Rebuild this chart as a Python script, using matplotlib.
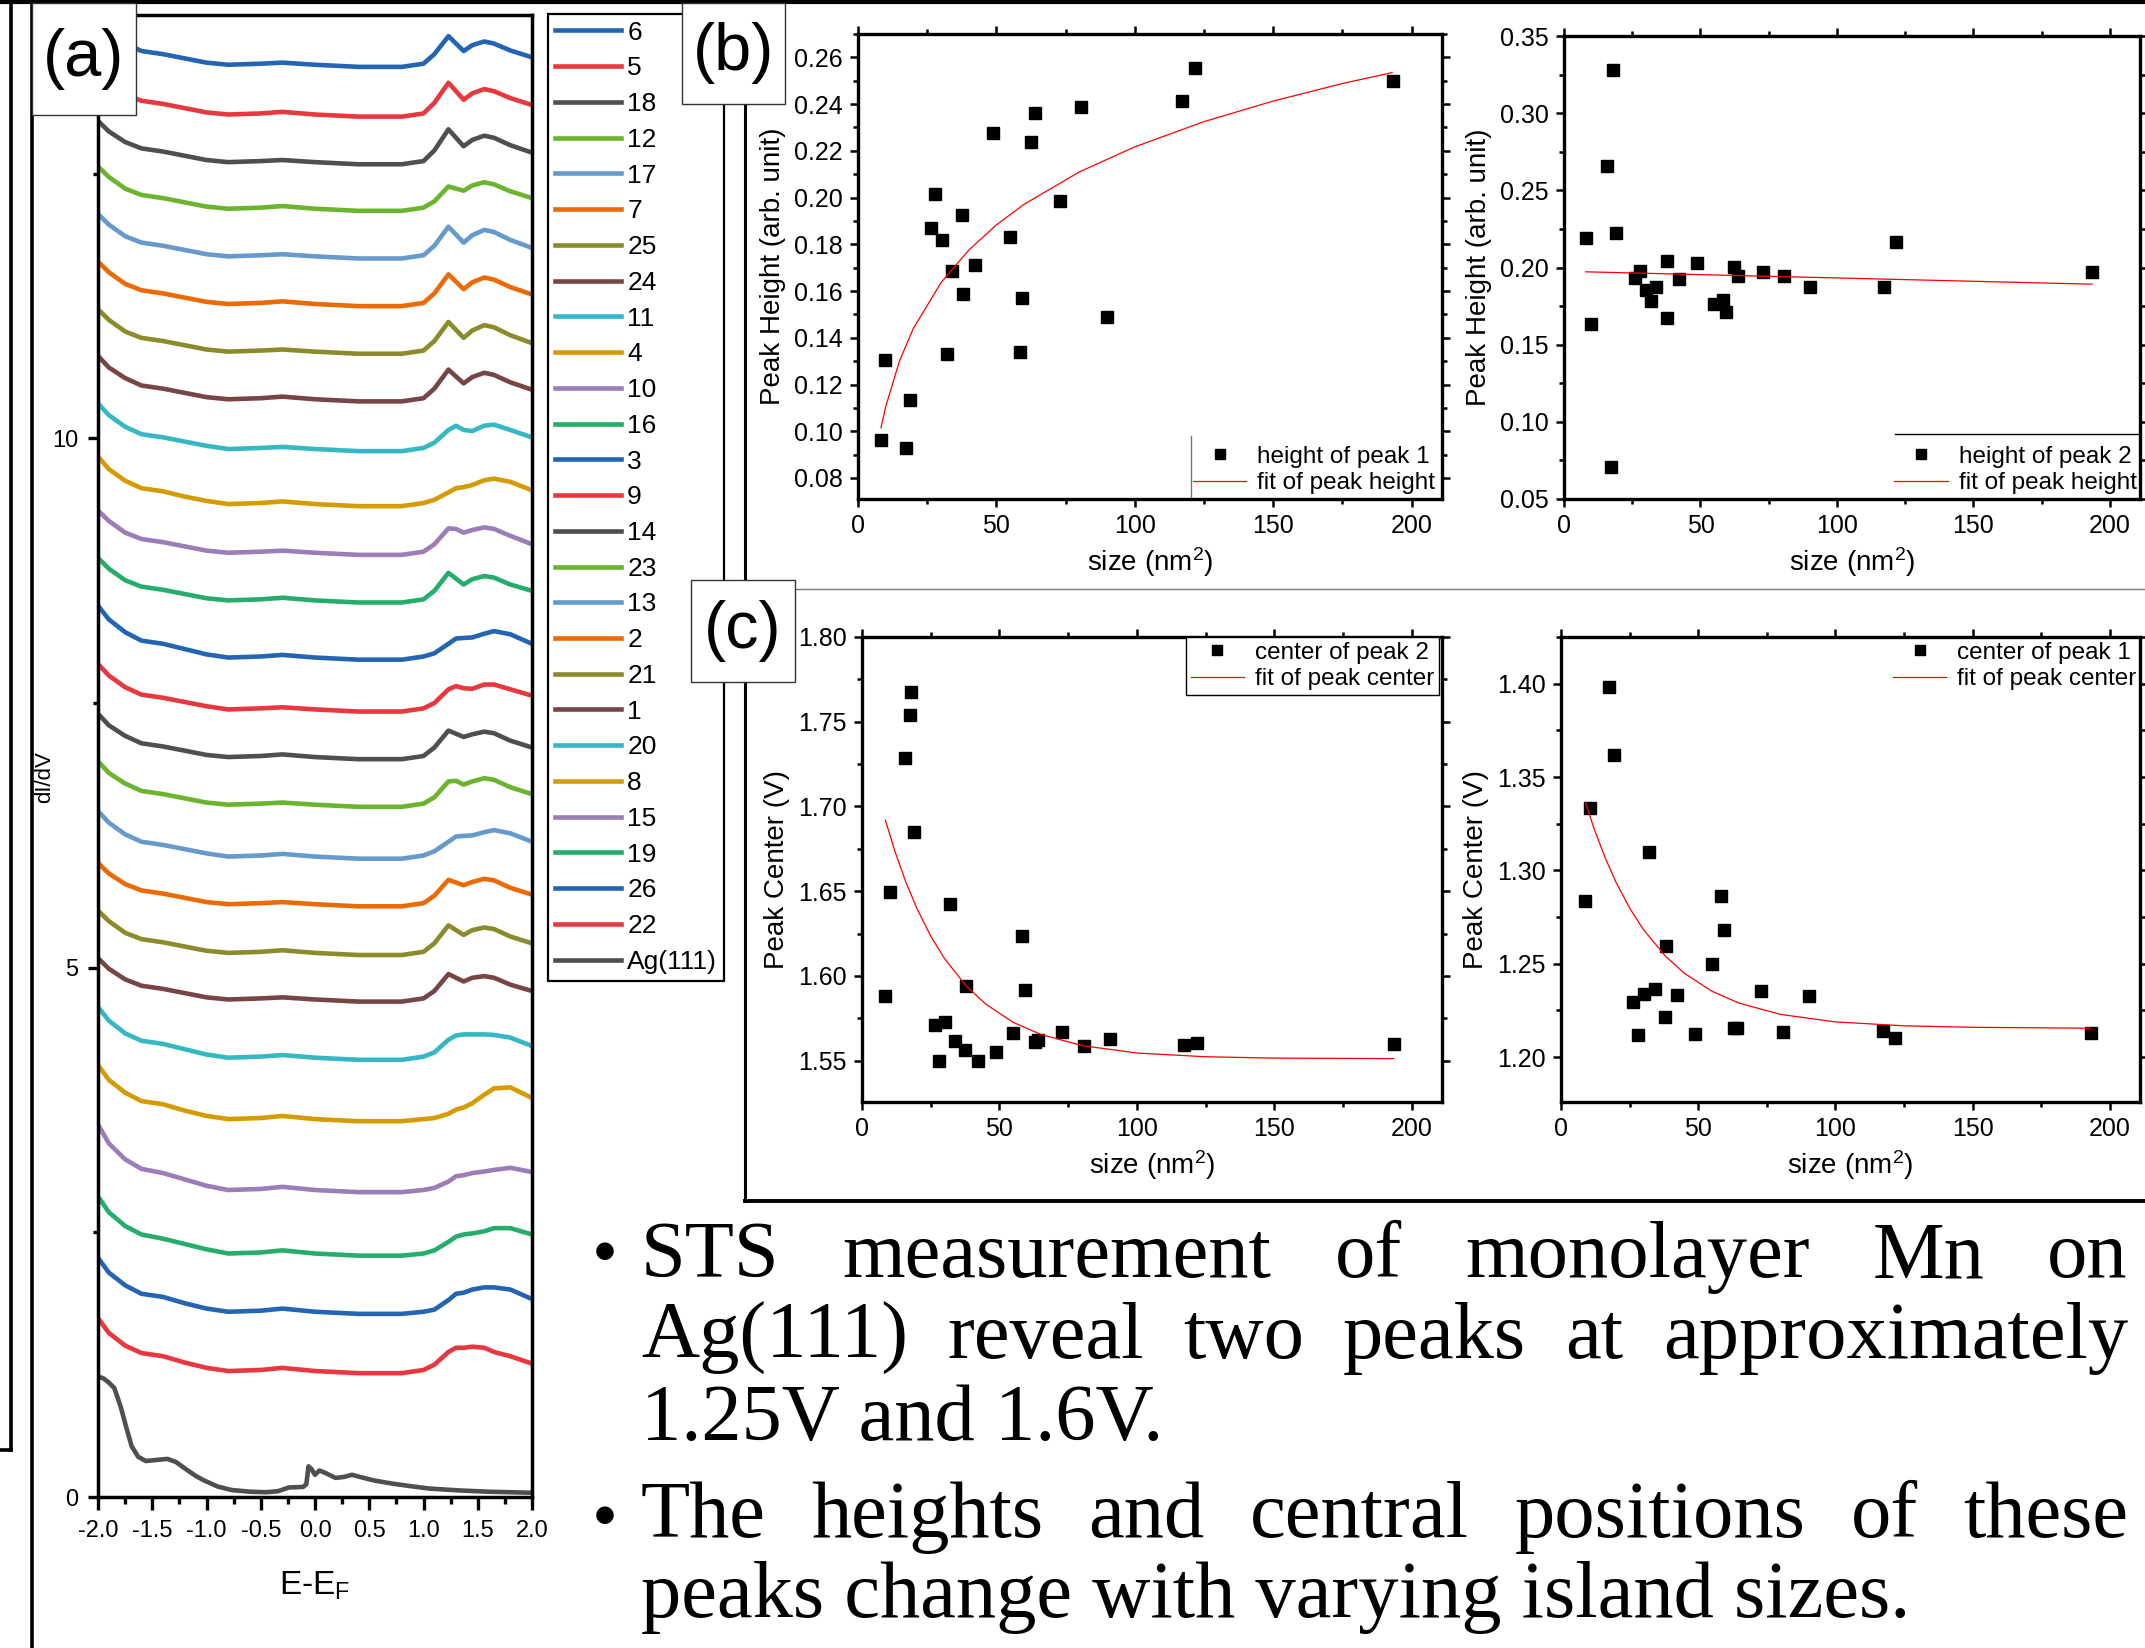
import matplotlib
matplotlib.use('Agg')
import matplotlib.pyplot as plt
from matplotlib.lines import Line2D
from matplotlib.patches import Rectangle
from matplotlib.ticker import MultipleLocator, FormatStrFormatter

plt.rcParams['font.family'] = ['Liberation Sans', 'DejaVu Sans']
plt.rcParams['mathtext.default'] = 'regular'
plt.rcParams['axes.unicode_minus'] = False

# ---------------- (a) STS spectra, stacked ----------------
sts_x = [-2.0, -1.9, -1.75, -1.6, -1.4, -1.2, -1.0, -0.8, -0.5, -0.3, 0.0, 0.4,
         0.8, 1.0, 1.1, 1.23, 1.3, 1.37, 1.45, 1.56, 1.65, 1.8, 2.0]
sts_labels = ['6', '5', '18', '12', '17', '7', '25', '24', '11', '4', '10', '16', '3',
              '9', '14', '23', '13', '2', '21', '1', '20', '8', '15', '19', '26', '22']
sts_offsets = [13.51, 13.04, 12.59, 12.15, 11.70, 11.25, 10.80, 10.35, 9.88, 9.36, 8.90,
               8.45, 7.91, 7.42, 6.97, 6.52, 6.03, 5.58, 5.12, 4.68, 4.13, 3.55, 2.88,
               2.28, 1.73, 1.17]
sts_curves = [
    [0.43, 0.32, 0.22, 0.15, 0.12, 0.08, 0.04, 0.02, 0.03, 0.04, 0.02, 0.0, 0.0, 0.03, 0.12, 0.29, 0.22, 0.15, 0.205, 0.24, 0.22, 0.155, 0.09],
    [0.42, 0.32, 0.21, 0.15, 0.12, 0.08, 0.04, 0.02, 0.03, 0.045, 0.02, 0.0, 0.0, 0.03, 0.13, 0.32, 0.24, 0.16, 0.22, 0.26, 0.24, 0.175, 0.11],
    [0.41, 0.31, 0.21, 0.15, 0.12, 0.08, 0.04, 0.02, 0.03, 0.04, 0.02, 0.0, 0.0, 0.03, 0.13, 0.33, 0.25, 0.17, 0.23, 0.27, 0.25, 0.18, 0.11],
    [0.42, 0.32, 0.21, 0.15, 0.12, 0.08, 0.04, 0.02, 0.03, 0.045, 0.02, 0.0, 0.0, 0.03, 0.09, 0.23, 0.21, 0.19, 0.24, 0.27, 0.25, 0.185, 0.12],
    [0.42, 0.32, 0.21, 0.15, 0.12, 0.08, 0.04, 0.02, 0.03, 0.04, 0.02, 0.0, 0.0, 0.03, 0.12, 0.30, 0.225, 0.15, 0.22, 0.27, 0.25, 0.175, 0.10],
    [0.42, 0.32, 0.21, 0.15, 0.12, 0.08, 0.04, 0.02, 0.03, 0.045, 0.02, 0.0, 0.0, 0.03, 0.12, 0.30, 0.23, 0.16, 0.225, 0.27, 0.25, 0.18, 0.11],
    [0.42, 0.32, 0.21, 0.15, 0.12, 0.08, 0.04, 0.02, 0.03, 0.04, 0.02, 0.0, 0.0, 0.03, 0.12, 0.30, 0.225, 0.15, 0.22, 0.27, 0.25, 0.175, 0.10],
    [0.43, 0.32, 0.22, 0.15, 0.12, 0.08, 0.04, 0.02, 0.03, 0.045, 0.02, 0.0, 0.0, 0.03, 0.12, 0.30, 0.235, 0.17, 0.23, 0.27, 0.25, 0.18, 0.11],
    [0.45, 0.34, 0.23, 0.16, 0.13, 0.09, 0.05, 0.02, 0.03, 0.04, 0.02, 0.0, 0.0, 0.03, 0.08, 0.20, 0.24, 0.20, 0.19, 0.24, 0.25, 0.20, 0.13],
    [0.47, 0.35, 0.24, 0.17, 0.14, 0.09, 0.05, 0.02, 0.03, 0.045, 0.02, 0.0, 0.0, 0.03, 0.06, 0.13, 0.17, 0.18, 0.20, 0.245, 0.26, 0.23, 0.15],
    [0.42, 0.32, 0.21, 0.15, 0.12, 0.08, 0.04, 0.02, 0.03, 0.04, 0.02, 0.0, 0.0, 0.03, 0.10, 0.25, 0.245, 0.21, 0.235, 0.26, 0.245, 0.18, 0.10],
    [0.42, 0.32, 0.21, 0.15, 0.12, 0.08, 0.04, 0.02, 0.03, 0.045, 0.02, 0.0, 0.0, 0.03, 0.11, 0.28, 0.225, 0.17, 0.22, 0.25, 0.235, 0.17, 0.11],
    [0.51, 0.38, 0.26, 0.18, 0.15, 0.10, 0.05, 0.02, 0.03, 0.045, 0.02, 0.0, 0.0, 0.03, 0.06, 0.15, 0.20, 0.205, 0.21, 0.245, 0.27, 0.24, 0.15],
    [0.45, 0.34, 0.23, 0.16, 0.13, 0.09, 0.05, 0.02, 0.03, 0.04, 0.02, 0.0, 0.0, 0.03, 0.08, 0.21, 0.24, 0.22, 0.215, 0.255, 0.255, 0.21, 0.15],
    [0.43, 0.32, 0.22, 0.15, 0.12, 0.08, 0.04, 0.02, 0.03, 0.045, 0.02, 0.0, 0.0, 0.03, 0.11, 0.27, 0.24, 0.21, 0.235, 0.26, 0.245, 0.175, 0.11],
    [0.43, 0.32, 0.22, 0.15, 0.12, 0.08, 0.04, 0.02, 0.03, 0.04, 0.02, 0.0, 0.0, 0.03, 0.09, 0.24, 0.245, 0.21, 0.24, 0.27, 0.255, 0.185, 0.12],
    [0.45, 0.34, 0.23, 0.16, 0.13, 0.09, 0.05, 0.02, 0.03, 0.045, 0.02, 0.0, 0.0, 0.03, 0.07, 0.16, 0.21, 0.215, 0.22, 0.25, 0.27, 0.24, 0.16],
    [0.41, 0.31, 0.21, 0.15, 0.12, 0.08, 0.04, 0.02, 0.03, 0.04, 0.02, 0.0, 0.0, 0.03, 0.10, 0.25, 0.225, 0.20, 0.23, 0.26, 0.245, 0.175, 0.11],
    [0.42, 0.32, 0.21, 0.15, 0.12, 0.08, 0.04, 0.02, 0.03, 0.045, 0.02, 0.0, 0.0, 0.03, 0.11, 0.28, 0.235, 0.19, 0.235, 0.26, 0.245, 0.175, 0.11],
    [0.41, 0.31, 0.21, 0.15, 0.12, 0.08, 0.04, 0.02, 0.03, 0.04, 0.02, 0.0, 0.0, 0.03, 0.10, 0.26, 0.225, 0.19, 0.225, 0.24, 0.225, 0.16, 0.10],
    [0.50, 0.37, 0.25, 0.18, 0.15, 0.10, 0.05, 0.02, 0.03, 0.045, 0.02, 0.0, 0.0, 0.03, 0.07, 0.19, 0.23, 0.24, 0.24, 0.24, 0.235, 0.21, 0.13],
    [0.53, 0.39, 0.27, 0.19, 0.16, 0.10, 0.05, 0.02, 0.03, 0.05, 0.02, 0.0, 0.0, 0.02, 0.03, 0.07, 0.11, 0.13, 0.17, 0.25, 0.31, 0.32, 0.22],
    [0.64, 0.46, 0.31, 0.22, 0.18, 0.12, 0.06, 0.02, 0.03, 0.05, 0.02, 0.0, 0.0, 0.02, 0.04, 0.10, 0.15, 0.16, 0.18, 0.195, 0.21, 0.23, 0.19],
    [0.56, 0.41, 0.28, 0.20, 0.16, 0.11, 0.06, 0.02, 0.03, 0.05, 0.02, 0.0, 0.0, 0.02, 0.05, 0.13, 0.18, 0.20, 0.21, 0.23, 0.26, 0.26, 0.20],
    [0.53, 0.39, 0.27, 0.19, 0.16, 0.10, 0.05, 0.02, 0.03, 0.05, 0.02, 0.0, 0.0, 0.02, 0.04, 0.13, 0.19, 0.20, 0.23, 0.25, 0.25, 0.23, 0.14],
    [0.52, 0.38, 0.26, 0.19, 0.16, 0.10, 0.05, 0.02, 0.03, 0.05, 0.02, 0.0, 0.0, 0.03, 0.08, 0.20, 0.24, 0.24, 0.25, 0.24, 0.20, 0.16, 0.09],
]
sts_colors = ['#2365b2', '#e8383f', '#4f4f4f', '#6bb42e', '#6699cc', '#ec6a05',
              '#8b8b2b', '#774545', '#35b8c3', '#d49b02', '#9b7db8', '#27ad6b']

ag_x = [-2.0, -1.95, -1.91, -1.85, -1.79, -1.74, -1.69, -1.63, -1.56, -1.46, -1.36,
        -1.28, -1.2, -1.1, -1.03, -0.9, -0.77, -0.6, -0.45, -0.34, -0.24, -0.11,
        -0.08, -0.06, -0.03, 0.0, 0.04, 0.09, 0.19, 0.27, 0.34, 0.45, 0.55, 0.72,
        0.9, 1.05, 1.2, 1.37, 1.6, 1.8, 2.0]
ag_y = [1.14, 1.12, 1.09, 1.03, 0.85, 0.66, 0.48, 0.38, 0.34, 0.35, 0.36,
        0.33, 0.27, 0.20, 0.16, 0.10, 0.066, 0.05, 0.045, 0.055, 0.09, 0.095,
        0.12, 0.29, 0.26, 0.21, 0.25, 0.23, 0.18, 0.19, 0.21, 0.18, 0.155, 0.125,
        0.10, 0.08, 0.07, 0.06, 0.05, 0.045, 0.04]

# ---------------- (b) peak heights ----------------
b1_size = [8.3, 9.9, 17.5, 18.9, 26.3, 27.9, 30.2, 32.0, 34.0, 37.6, 38.0, 42.3,
           48.8, 54.9, 58.5, 59.4, 62.6, 63.9, 72.9, 80.6, 90.1, 117.1, 121.8, 193.2]
b1_height = [0.0963, 0.1303, 0.0930, 0.1134, 0.1871, 0.2017, 0.1819, 0.1330, 0.1687,
             0.1927, 0.1587, 0.1711, 0.2275, 0.1832, 0.1339, 0.1571, 0.2236, 0.2363,
             0.1987, 0.2389, 0.1487, 0.2412, 0.2556, 0.2499]
b1_fit_x = [8.3, 10, 15, 20, 30, 40, 50, 60, 80, 100, 125, 150, 175, 193]
b1_fit_y = [0.1015, 0.1105, 0.1301, 0.1440, 0.1636, 0.1775, 0.1883, 0.1971, 0.2110,
            0.2217, 0.2325, 0.2413, 0.2488, 0.2535]

b2_size = [8.1, 10.0, 15.7, 17.3, 17.9, 18.9, 26.1, 27.9, 30.1, 32.0, 33.8, 37.7,
           37.9, 42.1, 48.6, 55.0, 58.2, 59.2, 62.4, 63.8, 72.8, 80.7, 90.2, 117.3,
           121.7, 193.4]
b2_height = [0.2194, 0.1633, 0.2655, 0.0709, 0.3277, 0.2223, 0.1933, 0.1980, 0.1851,
             0.1782, 0.1871, 0.2042, 0.1675, 0.1923, 0.2027, 0.1765, 0.1792, 0.1713,
             0.2003, 0.1946, 0.1970, 0.1943, 0.1876, 0.1871, 0.2164, 0.1970]
b2_fit_x = [8.0, 193.4]
b2_fit_y = [0.1972, 0.1892]

# ---------------- (c) peak centers ----------------
c2_size = [8.3, 10.1, 15.7, 17.4, 17.9, 19.0, 26.4, 27.9, 30.2, 32.0, 34.0, 37.6,
           38.0, 42.2, 48.7, 55.0, 58.3, 59.4, 62.8, 63.9, 72.8, 80.7, 90.3, 117.3,
           121.8, 193.5]
c2_center = [1.5882, 1.6496, 1.7286, 1.7540, 1.7673, 1.6847, 1.5711, 1.5495, 1.5728,
             1.6423, 1.5616, 1.5564, 1.5939, 1.5500, 1.5552, 1.5664, 1.6233, 1.5915,
             1.5609, 1.5621, 1.5668, 1.5585, 1.5628, 1.5590, 1.5604, 1.5597]
c2_fit_x = [8.5, 12, 16, 20, 25, 30, 38, 45, 55, 65, 80, 100, 125, 150, 193.5]
c2_fit_y = [1.6920, 1.6734, 1.6552, 1.6397, 1.6235, 1.6103, 1.5939, 1.5834, 1.5726,
            1.5655, 1.5589, 1.5545, 1.5523, 1.5515, 1.5512]

c1_size = [8.6, 10.4, 17.6, 19.3, 26.3, 27.9, 30.4, 32.0, 34.1, 37.9, 38.3, 42.3,
           49.0, 55.0, 58.4, 59.4, 62.9, 64.1, 73.0, 80.9, 90.4, 117.3, 121.7, 193.1]
c1_center = [1.2837, 1.3333, 1.3981, 1.3619, 1.2297, 1.2120, 1.2340, 1.3101, 1.2363,
             1.2213, 1.2598, 1.2333, 1.2125, 1.2497, 1.2862, 1.2680, 1.2155, 1.2155,
             1.2355, 1.2136, 1.2329, 1.2140, 1.2103, 1.2131]
c1_fit_x = [8.9, 12, 16, 20, 25, 30, 38, 45, 55, 65, 80, 100, 125, 150, 193]
c1_fit_y = [1.3365, 1.3226, 1.3071, 1.2938, 1.2799, 1.2684, 1.2542, 1.2449, 1.2353,
            1.2289, 1.2229, 1.2189, 1.2168, 1.2160, 1.2155]

bullet1 = [['STS', 'measurement', 'of', 'monolayer', 'Mn', 'on'],
           ['Ag(111)', 'reveal', 'two', 'peaks', 'at', 'approximately'],
           ['1.25V and 1.6V.']]
bullet2 = [['The', 'heights', 'and', 'central', 'positions', 'of', 'these'],
           ['peaks change with varying island sizes.']]

# ---------------- figure ----------------
W, H = 2145, 1648
fig = plt.figure(figsize=(W / 100, H / 100), dpi=100)


def fx(x):
    return x / W


def fy(y):
    return 1 - y / H


def add_axes_px(l, t, r, b):
    return fig.add_axes([l / W, 1 - b / H, (r - l) / W, (b - t) / H])


def fig_line(x0, y0, x1, y1, lw=2.5, color='black'):
    fig.add_artist(Line2D([fx(x0), fx(x1)], [fy(y0), fy(y1)], transform=fig.transFigure,
                          color=color, lw=lw, solid_capstyle='projecting', zorder=4))


def panel_tag(text, l, t, r, b):
    fig.add_artist(Rectangle((fx(l), fy(b)), (r - l) / W, (b - t) / H,
                             transform=fig.transFigure, facecolor='white',
                             edgecolor='#333333', lw=1.0, zorder=5))
    fig.text(fx((l + r) / 2), fy((t + b) / 2), text, ha='center', va='center',
             fontsize=48, zorder=6)


# slide frame lines
fig_line(0, 2, W, 2, lw=3)
fig_line(11, 0, 11, 1450, lw=2.6)
fig_line(0, 1450, 11, 1450, lw=2.6)
fig_line(32, 0, 32, H, lw=2.6)
fig_line(745, 0, 745, 1201, lw=2.2)
fig_line(745, 1201, W, 1201, lw=2.8)
fig_line(745, 589, W, 589, lw=1.0, color='#7a7a7a')

# (a)
ax_a = add_axes_px(98, 15, 532, 1497)
for i, (lab, off, rel) in enumerate(zip(sts_labels, sts_offsets, sts_curves)):
    ax_a.plot(sts_x, [off + v for v in rel], color=sts_colors[i % 12], lw=3.3, label=lab)
ax_a.plot(ag_x, ag_y, color='#4f4f4f', lw=3.3, label='Ag(111)')
ax_a.set_xlim(-2.0, 2.0)
ax_a.set_ylim(0, 14.0)
ax_a.xaxis.set_major_locator(MultipleLocator(0.5))
ax_a.xaxis.set_minor_locator(MultipleLocator(0.25))
ax_a.xaxis.set_major_formatter(FormatStrFormatter('%.1f'))
ax_a.yaxis.set_major_locator(MultipleLocator(5))
ax_a.yaxis.set_minor_locator(MultipleLocator(2.5))
ax_a.tick_params(axis='both', which='both', direction='out', width=2.4, labelsize=17,
                 pad=7, top=False, right=False)
ax_a.tick_params(axis='x', which='major', length=9.5)
ax_a.tick_params(axis='x', which='minor', length=5)
ax_a.tick_params(axis='y', which='major', length=7)
ax_a.tick_params(axis='y', which='minor', length=3.5)
for s in ax_a.spines.values():
    s.set_linewidth(2.5)
ax_a.set_xlabel('E-E$_F$', fontsize=24, labelpad=20)
fig.text(fx(45), fy(777), 'dI/dV', rotation=90, ha='center', va='center', fontsize=16)
leg_a = ax_a.legend(loc='upper left', bbox_to_anchor=(fx(548), fy(14)),
                    bbox_transform=fig.transFigure, fontsize=19, frameon=True,
                    fancybox=False, framealpha=1, edgecolor='black', borderpad=0.25,
                    borderaxespad=0, handlelength=2.5, handletextpad=0.25,
                    labelspacing=0.445)
leg_a.get_frame().set_linewidth(1.6)


def style_panel(ax, ylim, ymaj, ymin, ylabel):
    ax.set_xlim(0, 211)
    ax.set_ylim(*ylim)
    ax.xaxis.set_major_locator(MultipleLocator(50))
    ax.xaxis.set_minor_locator(MultipleLocator(25))
    ax.yaxis.set_major_locator(MultipleLocator(ymaj))
    ax.yaxis.set_minor_locator(MultipleLocator(ymin))
    ax.yaxis.set_major_formatter(FormatStrFormatter('%.2f'))
    ax.tick_params(which='both', direction='out', top=True, right=True, width=1.8,
                   labelsize=18, pad=5)
    ax.tick_params(which='major', length=6)
    ax.tick_params(which='minor', length=3.5)
    for s in ax.spines.values():
        s.set_linewidth(2.4)
    ax.set_xlabel('size (nm$^2$)', fontsize=20, labelpad=5)
    ax.set_ylabel(ylabel, fontsize=20, labelpad=6)


def scatter_fit(ax, xs, ys, fxs, fys, lab, flab):
    ax.plot(xs, ys, 's', color='black', ms=9, ls='none', label=lab)
    ax.plot(fxs, fys, color='red', lw=0.9, label=flab)


leg_kw = dict(fontsize=17.5, handlelength=2.2, handletextpad=0.45, labelspacing=0.18,
              borderpad=0.2, borderaxespad=0, markerscale=0.75, fancybox=False)

ax_b1 = add_axes_px(858, 34, 1442, 499)
scatter_fit(ax_b1, b1_size, b1_height, b1_fit_x, b1_fit_y, 'height of peak 1',
            'fit of peak height')
style_panel(ax_b1, (0.071, 0.270), 0.02, 0.01, 'Peak Height (arb. unit)')
ax_b1.legend(loc='lower left', bbox_to_anchor=(0.565, 0.0), frameon=False, **leg_kw)
ax_b1.plot([0.570, 0.570], [0.0, 0.135], transform=ax_b1.transAxes, color='#777777',
           lw=1.0)

ax_b2 = add_axes_px(1564, 36, 2140, 499)
scatter_fit(ax_b2, b2_size, b2_height, b2_fit_x, b2_fit_y, 'height of peak 2',
            'fit of peak height')
style_panel(ax_b2, (0.05, 0.35), 0.05, 0.025, 'Peak Height (arb. unit)')
ax_b2.legend(loc='lower left', bbox_to_anchor=(0.565, 0.0), frameon=False, **leg_kw)
ax_b2.plot([0.575, 1.0], [0.140, 0.140], transform=ax_b2.transAxes, color='black',
           lw=1.0)

ax_c2 = add_axes_px(862, 637, 1442, 1102)
scatter_fit(ax_c2, c2_size, c2_center, c2_fit_x, c2_fit_y, 'center of peak 2',
            'fit of peak center')
style_panel(ax_c2, (1.5256, 1.80), 0.05, 0.025, 'Peak Center (V)')
lg = ax_c2.legend(loc='upper right', bbox_to_anchor=(0.995, 1.0), frameon=True,
                  framealpha=1, edgecolor='black', **leg_kw)
lg.get_frame().set_linewidth(1.0)

ax_c1 = add_axes_px(1561, 637, 2140, 1102)
scatter_fit(ax_c1, c1_size, c1_center, c1_fit_x, c1_fit_y, 'center of peak 1',
            'fit of peak center')
style_panel(ax_c1, (1.176, 1.425), 0.05, 0.025, 'Peak Center (V)')
ax_c1.legend(loc='upper left', bbox_to_anchor=(0.565, 1.0), frameon=False, **leg_kw)

panel_tag('(a)', 32, 3, 136, 115)
panel_tag('(b)', 682, 3, 785, 104)
panel_tag('(c)', 691, 580, 795, 682)

# bullet text (justified lines)
serif = dict(family=['Liberation Serif', 'DejaVu Serif'], fontsize=58)
renderer = fig.canvas.get_renderer()
x_left, x_right = 641, 2128


def place_line(words, base_y, justify):
    if not justify:
        fig.text(fx(x_left), fy(base_y), words[0], va='baseline', ha='left', **serif)
        return
    texts = [fig.text(0, fy(base_y), w, va='baseline', ha='left', **serif) for w in words]
    widths = [t.get_window_extent(renderer).width for t in texts]
    gap = (x_right - x_left - sum(widths)) / (len(words) - 1)
    x = x_left
    for t, w in zip(texts, widths):
        t.set_x(fx(x))
        x += w + gap


for words, y, j in zip(bullet1, [1277, 1358, 1440], [True, True, False]):
    place_line(words, y, j)
for words, y, j in zip(bullet2, [1537, 1617], [True, False]):
    place_line(words, y, j)
for by in [1250, 1514]:
    fig.text(fx(605), fy(by), '\u25cf', ha='center', va='center', fontsize=16.5,
             family=['DejaVu Sans'])

fig.savefig('out.png', dpi=100)
